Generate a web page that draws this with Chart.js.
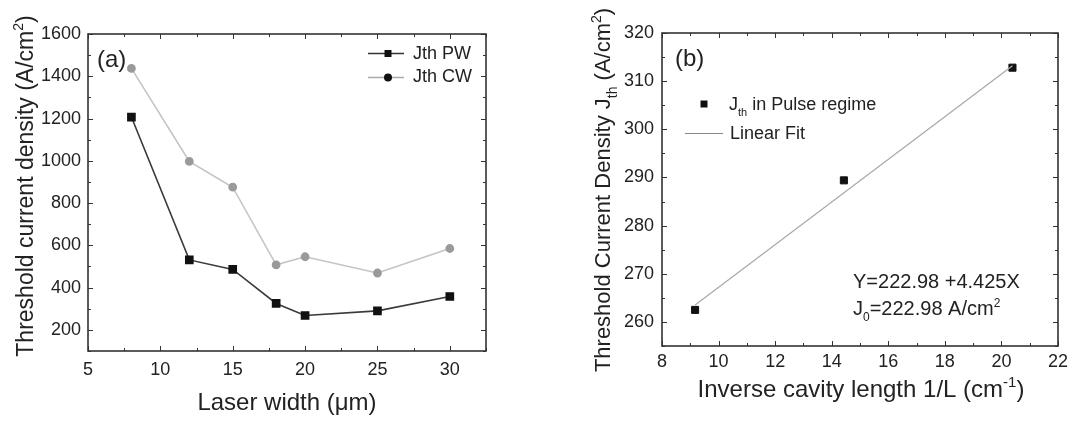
<!DOCTYPE html>
<html>
<head>
<meta charset="utf-8">
<script src="https://cdn.jsdelivr.net/npm/chart.js@4/dist/chart.umd.min.js"></script>
<style>
  html, body { margin: 0; padding: 0; background: #fff; }
  #wrap { position: relative; width: 1073px; height: 423px; overflow: hidden; }
  canvas { position: absolute; top: 0; }
  #chartA { left: 0; }
  #chartB { left: 540px; }
</style>
</head>
<body>
<div id="wrap">
  <canvas id="chartA" width="540" height="423"></canvas>
  <canvas id="chartB" width="533" height="423"></canvas>
</div>
<script>
// (a) threshold current density vs laser width
const laserWidth = [8, 12, 15, 18, 20, 25, 30];
const jthPW = [1207, 531, 486, 325, 268, 290, 358];
const jthCW = [1437, 997, 875, 508, 546, 469, 585];
const xTicksA = [5, 10, 15, 20, 25, 30];
const yTicksA = [200, 400, 600, 800, 1000, 1200, 1400, 1600];

// (b) Jth vs inverse cavity length, with linear fit
const invLength = [9.17, 14.43, 20.39];
const jthPulse = [262.5, 289.4, 312.8];
const fitX = [9.17, 20.39];
const fitY = [263.5, 313.2];
const xTicksB = [8, 10, 12, 14, 16, 18, 20, 22];
const yTicksB = [260, 270, 280, 290, 300, 310, 320];

const FONT = '"Liberation Sans", Arial, Helvetica, sans-serif';
const INK = '#222';

function font(size) { return size + 'px ' + FONT; }

// draws text pieces with sub/superscripts, left or centered
function richText(ctx, parts, x, y, size, align) {
  const widths = parts.map(([t, m]) => {
    ctx.font = font(m ? Math.round(size * 0.62) : size);
    return ctx.measureText(t).width;
  });
  const total = widths.reduce((a, b) => a + b, 0);
  let cx = align === 'center' ? x - total / 2 : x;
  ctx.textAlign = 'left';
  ctx.textBaseline = 'alphabetic';
  parts.forEach(([t, m], i) => {
    ctx.font = font(m ? Math.round(size * 0.62) : size);
    const dy = m === 'sub' ? size * 0.32 : m === 'sup' ? -size * 0.42 : 0;
    ctx.fillText(t, cx, y + dy);
    cx += widths[i];
  });
}

// box around the plot with inward major/minor ticks on all four sides
const framePlugin = {
  id: 'frame',
  afterDatasetsDraw(chart, args, opts) {
    const { ctx, chartArea: a, scales: { x, y } } = chart;
    ctx.save();
    ctx.strokeStyle = '#333';
    ctx.lineWidth = 1;
    const drawX = (v, len) => {
      const px = Math.round(x.getPixelForValue(v)) + 0.5;
      ctx.beginPath();
      ctx.moveTo(px, a.bottom); ctx.lineTo(px, a.bottom - len);
      ctx.moveTo(px, a.top); ctx.lineTo(px, a.top + len);
      ctx.stroke();
    };
    const drawY = (v, len) => {
      const py = Math.round(y.getPixelForValue(v)) + 0.5;
      ctx.beginPath();
      ctx.moveTo(a.left, py); ctx.lineTo(a.left + len, py);
      ctx.moveTo(a.right, py); ctx.lineTo(a.right - len, py);
      ctx.stroke();
    };
    for (let v = x.min; v <= x.max + 1e-9; v += opts.xMinor) drawX(v, 3);
    for (let v = y.min; v <= y.max + 1e-9; v += opts.yMinor) drawY(v, 3);
    x.ticks.forEach(t => drawX(t.value, 5));
    y.ticks.forEach(t => drawY(t.value, 5));
    ctx.lineWidth = 1.6;
    ctx.strokeRect(a.left, a.top, a.right - a.left, a.bottom - a.top);
    ctx.restore();
  }
};

function axisOpts(min, max, ticks, padding) {
  return {
    type: 'linear',
    min: min,
    max: max,
    grid: { display: false, drawTicks: false },
    border: { display: false },
    afterBuildTicks: s => { s.ticks = ticks.map(v => ({ value: v })); },
    ticks: {
      color: INK,
      font: { family: FONT, size: 18 },
      padding: padding,
      callback: v => String(v)
    }
  };
}

// ---- chart (a)
const textA = {
  id: 'textA',
  afterDraw(chart) {
    const ctx = chart.ctx;
    ctx.save();
    ctx.fillStyle = INK;
    // y title
    ctx.save();
    ctx.translate(33, 186);
    ctx.rotate(-Math.PI / 2);
    richText(ctx, [['Threshold current density (A/cm'], ['2', 'sup'], [')']], 0, 0, 23, 'center');
    ctx.restore();
    // x title
    richText(ctx, [['Laser width (\u03BCm)']], 287, 410, 24, 'center');
    // panel label
    richText(ctx, [['(a)']], 97, 67, 24, 'left');
    // legend
    ctx.strokeStyle = '#333';
    ctx.lineWidth = 1.5;
    ctx.beginPath(); ctx.moveTo(368, 53.5); ctx.lineTo(404, 53.5); ctx.stroke();
    ctx.fillStyle = '#111';
    ctx.fillRect(384.5, 50, 7, 7);
    ctx.strokeStyle = '#aaa';
    ctx.beginPath(); ctx.moveTo(368, 77.5); ctx.lineTo(404, 77.5); ctx.stroke();
    ctx.beginPath(); ctx.arc(388, 77.5, 4, 0, Math.PI * 2); ctx.fill();
    ctx.fillStyle = INK;
    richText(ctx, [['Jth PW']], 413, 59, 18, 'left');
    richText(ctx, [['Jth CW']], 413, 82, 18, 'left');
    ctx.restore();
  }
};

new Chart(document.getElementById('chartA'), {
  type: 'line',
  data: {
    datasets: [
      {
        label: 'Jth CW',
        data: laserWidth.map((w, i) => ({ x: w, y: jthCW[i] })),
        borderColor: '#c4c4c4',
        borderWidth: 1.6,
        pointStyle: 'circle',
        pointRadius: 3.6,
        pointBackgroundColor: '#9a9a9a',
        pointBorderColor: '#9a9a9a',
        tension: 0
      },
      {
        label: 'Jth PW',
        data: laserWidth.map((w, i) => ({ x: w, y: jthPW[i] })),
        borderColor: '#3a3a3a',
        borderWidth: 1.6,
        pointStyle: 'rect',
        pointRadius: 5,
        pointBackgroundColor: '#111',
        pointBorderColor: '#111',
        tension: 0
      }
    ]
  },
  options: {
    responsive: false,
    animation: false,
    layout: { padding: { top: 34, right: 54, left: 0, bottom: 0 } },
    plugins: {
      legend: { display: false },
      tooltip: { enabled: false },
      frame: { xMinor: 2.5, yMinor: 100 }
    },
    scales: {
      x: Object.assign(axisOpts(5, 32.5, xTicksA, 8), {
        afterFit: s => { s.height = 72; }
      }),
      y: Object.assign(axisOpts(100, 1600, yTicksA, 7), {
        afterFit: s => { s.width = 88; }
      })
    }
  },
  plugins: [framePlugin, textA]
});

// ---- chart (b)
const textB = {
  id: 'textB',
  afterDraw(chart) {
    const ctx = chart.ctx;
    ctx.save();
    ctx.fillStyle = INK;
    ctx.save();
    ctx.translate(70, 190);
    ctx.rotate(-Math.PI / 2);
    richText(ctx, [['Threshold Current Density J'], ['th', 'sub'], [' (A/cm'], ['2', 'sup'], [')']], 0, 0, 22, 'center');
    ctx.restore();
    richText(ctx, [['Inverse cavity length 1/L (cm'], ['-1', 'sup'], [')']], 321, 397, 24, 'center');
    richText(ctx, [['(b)']], 135, 66, 24, 'left');
    // legend
    ctx.fillStyle = '#111';
    ctx.fillRect(160.5, 100.5, 7, 7);
    ctx.strokeStyle = '#888';
    ctx.lineWidth = 1;
    ctx.beginPath(); ctx.moveTo(145, 133.5); ctx.lineTo(183, 133.5); ctx.stroke();
    ctx.fillStyle = INK;
    richText(ctx, [['J'], ['th', 'sub'], [' in Pulse regime']], 189, 110, 18, 'left');
    richText(ctx, [['Linear Fit']], 190, 139, 18, 'left');
    // fit annotation
    richText(ctx, [['Y=222.98 +4.425X']], 313, 288, 20, 'left');
    richText(ctx, [['J'], ['0', 'sub'], ['=222.98 A/cm'], ['2', 'sup']], 313, 315, 20, 'left');
    ctx.restore();
  }
};

new Chart(document.getElementById('chartB'), {
  type: 'scatter',
  data: {
    datasets: [
      {
        label: 'Linear Fit',
        type: 'line',
        data: fitX.map((v, i) => ({ x: v, y: fitY[i] })),
        borderColor: '#a8a8a8',
        borderWidth: 1.2,
        pointRadius: 0,
        tension: 0
      },
      {
        label: 'Jth in Pulse regime',
        data: invLength.map((v, i) => ({ x: v, y: jthPulse[i] })),
        pointStyle: 'rect',
        pointRadius: 5,
        pointBackgroundColor: '#111',
        pointBorderColor: '#111'
      }
    ]
  },
  options: {
    responsive: false,
    animation: false,
    layout: { padding: { top: 33, right: 15, left: 0, bottom: 0 } },
    plugins: {
      legend: { display: false },
      tooltip: { enabled: false },
      frame: { xMinor: 1, yMinor: 5 }
    },
    scales: {
      x: Object.assign(axisOpts(8, 22, xTicksB, 5), {
        afterFit: s => { s.height = 77; }
      }),
      y: Object.assign(axisOpts(255, 320, yTicksB, 8), {
        afterFit: s => { s.width = 122; }
      })
    }
  },
  plugins: [framePlugin, textB]
});
</script>
</body>
</html>
